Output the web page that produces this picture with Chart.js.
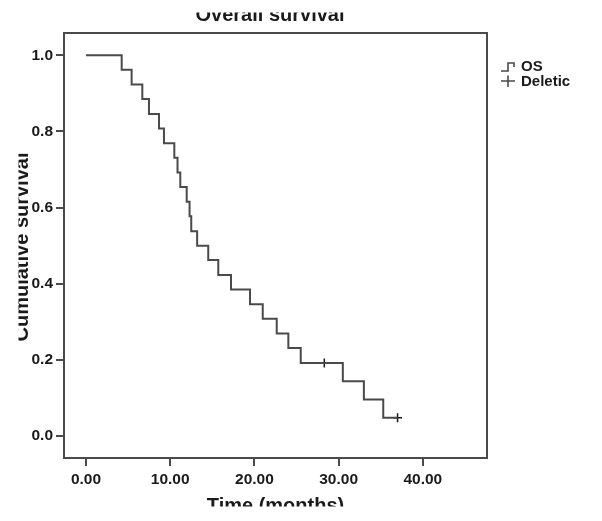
<!DOCTYPE html>
<html>
<head>
<meta charset="utf-8">
<script src="https://cdn.jsdelivr.net/npm/chart.js@4.4.1/dist/chart.umd.min.js"></script>
<style>
  html, body { margin: 0; padding: 0; background: #ffffff; }
  canvas { display: block; }
</style>
</head>
<body>
<canvas id="c" width="602" height="521"></canvas>
<script>
// ---- data ----
const eventTimes = [0, 4.24, 5.42, 6.69, 7.48, 8.67, 9.26, 10.49, 10.87, 11.2, 11.96, 12.3, 12.5, 13.2, 14.52, 15.71, 17.22, 19.48, 20.99, 22.65, 24.03, 25.5, 28.3, 30.5, 33.0, 35.3, 37.0];
const survival   = [1.0, 0.962, 0.923, 0.885, 0.846, 0.808, 0.769, 0.731, 0.692, 0.654, 0.615, 0.577, 0.538, 0.5, 0.462, 0.423, 0.385, 0.346, 0.308, 0.269, 0.231, 0.192, 0.192, 0.144, 0.096, 0.048, 0.048];
const censorTimes = [28.3, 37.0];
const censorSurv  = [0.192, 0.048];
const xTicks = [0, 10, 20, 30, 40];
const yTicks = [0, 0.2, 0.4, 0.6, 0.8, 1.0];
const chartTitle = 'Overall survival';
const xTitle = 'Time (months)';
const yTitle = 'Cumulative survival';
const legendLabels = ['OS', 'Deletic'];

const FONT = '"Liberation Sans", Arial, Helvetica, sans-serif';
const INK = '#1a1a1a';
const LINE = '#4a4a4a';

const decorPlugin = {
  id: 'decor',
  afterDraw(chart) {
    const ctx = chart.ctx;
    const a = chart.chartArea;
    ctx.save();
    // frame
    ctx.strokeStyle = LINE;
    ctx.lineWidth = 2;
    ctx.strokeRect(a.left, a.top, a.right - a.left, a.bottom - a.top);

    ctx.fillStyle = INK;
    ctx.font = 'bold 20px ' + FONT;
    // chart title (top clipped as in reference)
    ctx.save();
    ctx.beginPath(); ctx.rect(0, 12.5, 602, 18); ctx.clip();
    ctx.textAlign = 'center'; ctx.textBaseline = 'alphabetic';
    ctx.fillText(chartTitle, 270, 21);
    ctx.restore();
    // x title (bottom clipped)
    ctx.save();
    ctx.beginPath(); ctx.rect(0, 485, 602, 21.5); ctx.clip();
    ctx.textAlign = 'center'; ctx.textBaseline = 'alphabetic';
    ctx.fillText(xTitle, (a.left + a.right) / 2, 512);
    ctx.restore();
    // y title (left clipped)
    ctx.save();
    ctx.beginPath(); ctx.rect(18.5, 0, 20, 521); ctx.clip();
    ctx.translate(27.5, 247);
    ctx.rotate(-Math.PI / 2);
    ctx.textAlign = 'center'; ctx.textBaseline = 'alphabetic';
    ctx.fillText(yTitle, 0, 0);
    ctx.restore();

    // legend
    ctx.strokeStyle = LINE;
    ctx.lineWidth = 1.6;
    ctx.beginPath();
    ctx.moveTo(501, 71); ctx.lineTo(508, 71); ctx.lineTo(508, 63); ctx.lineTo(514, 63); ctx.lineTo(514, 67);
    ctx.stroke();
    ctx.beginPath();
    ctx.moveTo(501, 81); ctx.lineTo(515, 81);
    ctx.moveTo(508, 75.5); ctx.lineTo(508, 87);
    ctx.stroke();
    ctx.font = 'bold 15px ' + FONT;
    ctx.textAlign = 'left'; ctx.textBaseline = 'middle';
    ctx.fillText(legendLabels[0], 521, 67);
    ctx.fillText(legendLabels[1], 521, 82);
    ctx.restore();
  }
};

new Chart(document.getElementById('c'), {
  data: {
    datasets: [
      {
        type: 'line',
        label: legendLabels[0],
        data: eventTimes.map((t, i) => ({ x: t, y: survival[i] })),
        stepped: true,
        borderColor: LINE,
        borderWidth: 2,
        pointRadius: 0,
        fill: false
      },
      {
        type: 'scatter',
        label: legendLabels[1],
        data: censorTimes.map((t, i) => ({ x: t, y: censorSurv[i] })),
        pointStyle: 'cross',
        pointRadius: 4.5,
        borderColor: INK,
        borderWidth: 1.5
      }
    ]
  },
  options: {
    responsive: false,
    animation: false,
    layout: { padding: { top: 33, right: 115, left: 0, bottom: 0 } },
    plugins: { legend: { display: false }, tooltip: { enabled: false }, title: { display: false } },
    scales: {
      x: {
        type: 'linear',
        min: -2.61,
        max: 47.62,
        afterBuildTicks: s => { s.ticks = xTicks.map(v => ({ value: v })); },
        afterFit: s => { s.height = 63; },
        ticks: {
          callback: v => Number(v).toFixed(2),
          font: { family: FONT, size: 15.5, weight: 'bold' },
          color: INK,
          padding: 4,
          maxRotation: 0,
          autoSkip: false
        },
        grid: { display: true, drawOnChartArea: false, drawTicks: true, tickLength: 8, color: LINE, lineWidth: 2 },
        border: { display: true, color: LINE, width: 2 }
      },
      y: {
        type: 'linear',
        min: -0.0577,
        max: 1.0585,
        afterBuildTicks: s => { s.ticks = yTicks.map(v => ({ value: v })); },
        afterFit: s => { s.width = 64; },
        ticks: {
          callback: v => Number(v).toFixed(1),
          font: { family: FONT, size: 15.5, weight: 'bold' },
          color: INK,
          padding: 3,
          autoSkip: false
        },
        grid: { display: true, drawOnChartArea: false, drawTicks: true, tickLength: 8, color: LINE, lineWidth: 2 },
        border: { display: true, color: LINE, width: 2 }
      }
    }
  },
  plugins: [decorPlugin]
});
</script>
</body>
</html>
